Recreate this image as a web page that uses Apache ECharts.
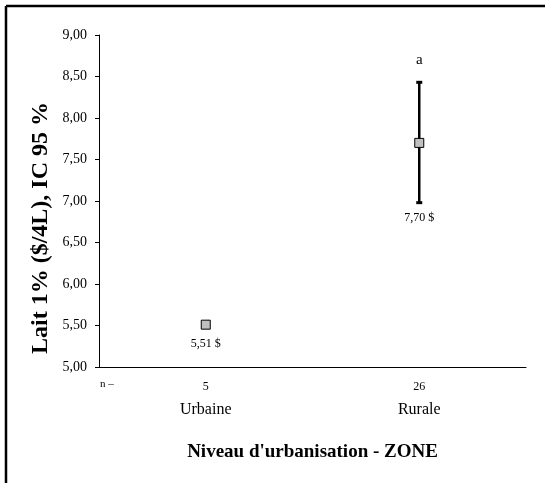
<!DOCTYPE html>
<html>
<head>
<meta charset="utf-8">
<script src="https://cdn.jsdelivr.net/npm/echarts@6/dist/echarts.min.js"></script>
<style>html,body{margin:0;padding:0;background:#fff;}#c{width:545px;height:483px;}</style>
</head>
<body>
<div id="c"></div>
<script>
const categories = ['Urbaine', 'Rurale'];
const nValues = [5, 26];
const means = [5.51, 7.70];
const ciLow = [null, 6.98];
const ciHigh = [null, 8.43];
const sigLetters = ['', 'a'];
const yTicks = [5.0, 5.5, 6.0, 6.5, 7.0, 7.5, 8.0, 8.5, 9.0];

const SERIF = '"Liberation Serif", "DejaVu Serif", serif';
const fmt = v => v.toFixed(2).replace('.', ',');

const chart = echarts.init(document.getElementById('c'), null, {renderer: 'canvas'});
chart.setOption({
  backgroundColor: '#fff',
  animation: false,
  grid: {left: 99, right: 19, top: 35, bottom: 116},
  xAxis: {
    type: 'category',
    data: categories,
    boundaryGap: true,
    axisLine: {lineStyle: {color: '#000', width: 1}},
    axisTick: {alignWithLabel: true, length: 4, lineStyle: {color: '#000'}},
    axisLabel: {
      margin: 10,
      formatter: (v, i) => '{n|' + nValues[i] + '}\n{c|' + v + '}',
      rich: {
        n: {fontFamily: SERIF, fontSize: 12, lineHeight: 20, color: '#000'},
        c: {fontFamily: SERIF, fontSize: 16, lineHeight: 26, color: '#000'}
      }
    },
    name: "Niveau d'urbanisation - ZONE",
    nameLocation: 'middle',
    nameGap: 76,
    nameTextStyle: {fontFamily: SERIF, fontSize: 19, fontWeight: 'bold', color: '#000'}
  },
  yAxis: {
    type: 'value',
    min: yTicks[0],
    max: yTicks[yTicks.length - 1],
    interval: 0.5,
    splitLine: {show: false},
    axisLine: {show: true, lineStyle: {color: '#000', width: 1}},
    axisTick: {show: true, length: 4, lineStyle: {color: '#000'}},
    axisLabel: {margin: 12, fontFamily: SERIF, fontSize: 14, color: '#000', formatter: v => fmt(v)}
  },
  graphic: [
    {type: 'line', shape: {x1: 6, y1: 6, x2: 545, y2: 6}, style: {stroke: '#000', lineWidth: 2.5}},
    {type: 'line', shape: {x1: 6, y1: 6, x2: 6, y2: 483}, style: {stroke: '#000', lineWidth: 2.5}},
    {type: 'text', left: 100, top: 379, style: {text: 'n \u2013', font: '11px ' + SERIF, fill: '#000'}},
    {type: 'text', x: 41, y: 228, rotation: Math.PI / 2,
      style: {text: 'Lait 1% ($/4L), IC 95 %', font: 'bold 24px ' + SERIF, fill: '#000',
        align: 'center', verticalAlign: 'middle'}}
  ],
  series: [
    {
      type: 'custom',
      data: categories.map((c, i) => [i, means[i]]),
      z: 2,
      renderItem: function (params, api) {
        const i = params.dataIndex;
        const children = [];
        const pm = api.coord([i, means[i]]);
        let bottom = pm[1] + 4.5;
        let top = pm[1] - 4.5;
        if (ciLow[i] != null && ciHigh[i] != null) {
          const pl = api.coord([i, ciLow[i]]);
          const ph = api.coord([i, ciHigh[i]]);
          const st = {stroke: '#000', lineWidth: 2.5};
          children.push({type: 'line', shape: {x1: pl[0], y1: pl[1], x2: ph[0], y2: ph[1]}, style: st});
          children.push({type: 'line', shape: {x1: pl[0] - 3, y1: pl[1], x2: pl[0] + 3, y2: pl[1]}, style: {stroke: '#000', lineWidth: 3}});
          children.push({type: 'line', shape: {x1: ph[0] - 3, y1: ph[1], x2: ph[0] + 3, y2: ph[1]}, style: {stroke: '#000', lineWidth: 3}});
          bottom = Math.max(bottom, pl[1]);
          top = Math.min(top, ph[1]);
        }
        children.push({type: 'text', x: pm[0], y: bottom + 15,
          style: {text: fmt(means[i]) + ' $', font: '12px ' + SERIF, fill: '#000', align: 'center', verticalAlign: 'middle'}});
        if (sigLetters[i]) {
          children.push({type: 'text', x: pm[0], y: top - 22,
            style: {text: sigLetters[i], font: '15px ' + SERIF, fill: '#000', align: 'center', verticalAlign: 'middle'}});
        }
        return {type: 'group', children: children};
      }
    },
    {
      type: 'scatter',
      data: categories.map((c, i) => [i, means[i]]),
      symbol: 'rect',
      symbolSize: 9,
      z: 5,
      itemStyle: {color: '#c0c0c0', borderColor: '#000', borderWidth: 1, opacity: 1}
    }
  ]
});
</script>
</body>
</html>
